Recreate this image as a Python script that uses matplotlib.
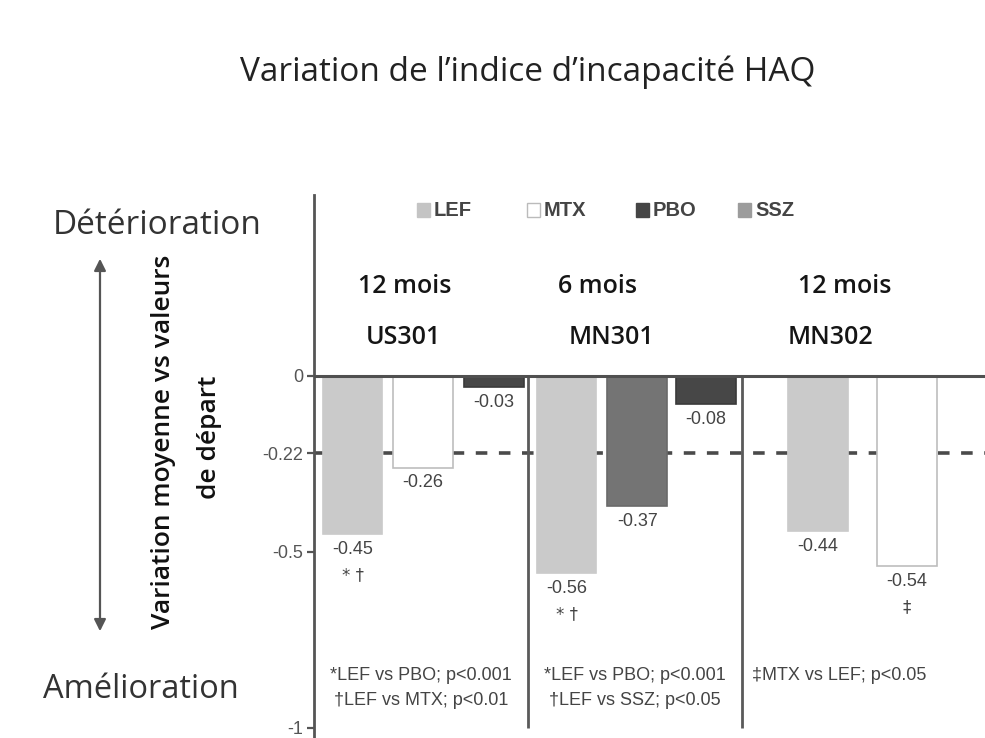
import matplotlib
matplotlib.use("Agg")
import matplotlib.pyplot as plt
from matplotlib import font_manager as fm
from matplotlib.patches import Rectangle, FancyArrowPatch

# ---------------- data ----------------
title = "Variation de l\u2019indice d\u2019incapacit\u00e9 HAQ"
studies = ["US301", "MN301", "MN302"]
durations = ["12 mois", "6 mois", "12 mois"]
treatments = ["LEF", "MTX", "PBO", "SSZ"]

us301_treat = ["LEF", "MTX", "PBO"]
us301_vals = [-0.45, -0.26, -0.03]
us301_marks = ["* \u2020", "", ""]

mn301_treat = ["LEF", "SSZ", "PBO"]
mn301_vals = [-0.56, -0.37, -0.08]
mn301_marks = ["* \u2020", "", ""]

mn302_treat = ["LEF", "MTX"]
mn302_vals = [-0.44, -0.54]
mn302_marks = ["", "\u2021"]

footnotes = [
    ["*LEF vs PBO; p<0.001", "\u2020LEF vs MTX; p<0.01"],
    ["*LEF vs PBO; p<0.001", "\u2020LEF vs SSZ; p<0.05"],
    ["\u2021MTX vs LEF; p<0.05"],
]
ref_value = -0.22
yticks = [0, -0.22, -0.5, -1]
yticklabels = ["0", "-0.22", "-0.5", "-1"]
top_label = "D\u00e9t\u00e9rioration"
bottom_label = "Am\u00e9lioration"
ylabel_lines = ["Variation moyenne vs valeurs", "de d\u00e9part"]

# ---------------- style ----------------
names = {f.name for f in fm.fontManager.ttflist}

def pick(*cands):
    for n in cands:
        if n in names:
            return n
    return "DejaVu Sans"

SANS = pick("Open Sans", "Noto Sans", "DejaVu Sans")
NARROW = pick("Liberation Sans", "DejaVu Sans")

colors = {"LEF": "#cacaca", "MTX": "#ffffff", "PBO": "#474747", "SSZ": "#747474"}
edges = {"LEF": "#cacaca", "MTX": "#bdbdbd", "PBO": "#3a3a3a", "SSZ": "#6a6a6a"}
legend_colors = {"LEF": "#c4c4c4", "MTX": "#ffffff", "PBO": "#454545", "SSZ": "#9c9c9c"}
TXT = "#444444"

fig = plt.figure(figsize=(9.85, 7.38), dpi=100)
W, H = 985, 738
px = 214.0   # pixels per study group
x0 = 314
ypx = 352.0  # pixels per unit on y
ytop_px, ybot_px, yzero_px = 195, 738, 376
ax = fig.add_axes([x0 / W, (H - ybot_px) / H, (W - x0) / W, (ybot_px - ytop_px) / H])
ax.set_xlim(0, (W - x0) / px)
ax.set_ylim(-(ybot_px - yzero_px) / ypx, (yzero_px - ytop_px) / ypx)

slot_offsets = [[0.18, 0.51, 0.84], [0.18, 0.51, 0.83], [0.355, 0.77]]
bar_w = 0.28

group_data = [
    (us301_treat, us301_vals, us301_marks),
    (mn301_treat, mn301_vals, mn301_marks),
    (mn302_treat, mn302_vals, mn302_marks),
]

ax.axhline(ref_value, color="#4a4a4a", lw=2.6, ls=(0, (3.2, 3.2)), zorder=1)

for gi, (tr, vals, marks) in enumerate(group_data):
    xs = [gi + o for o in slot_offsets[gi]]
    ax.bar(xs, vals, width=bar_w, color=[colors[t] for t in tr],
           edgecolor=[edges[t] for t in tr], linewidth=1.2, zorder=2)
    for x, v, m in zip(xs, vals, marks):
        ax.annotate(f"{v:.2f}", (x, v), xytext=(0, -5), textcoords="offset points",
                    ha="center", va="top", fontsize=13, color=TXT,
                    fontfamily=NARROW, zorder=3)
        if m:
            ax.annotate(m, (x, v), xytext=(0, -23), textcoords="offset points",
                        ha="center", va="top", fontsize=12, color=TXT,
                        fontfamily="DejaVu Sans", zorder=3)

dur_px = [405, 598, 845]
study_px = [403, 611, 830]
for gi in range(3):
    fig.text(dur_px[gi] / W, 1 - 287 / H, durations[gi], ha="center", va="center",
             fontsize=18, fontfamily=SANS, fontweight="semibold", color="#151515")
    fig.text(study_px[gi] / W, 1 - 338 / H, studies[gi], ha="center", va="center",
             fontsize=18, fontfamily=SANS, fontweight="semibold", color="#151515")

for b in [1, 2]:
    ax.plot([b, b], [0, -1.0], color="#5a5a5a", lw=2.0, zorder=4, solid_capstyle="butt")

ax.axhline(0, color="#505050", lw=2.2, zorder=4)

for gi, notes in enumerate(footnotes):
    for li, note in enumerate(notes):
        y = -0.85 - li * 0.071
        if gi < 2:
            ax.text(gi + 0.5, y, note, ha="center", va="center", fontsize=13,
                    fontfamily=NARROW, color=TXT)
        else:
            ax.text(gi + 0.045, y, note, ha="left", va="center", fontsize=13,
                    fontfamily=NARROW, color=TXT)

for s in ["top", "right", "bottom"]:
    ax.spines[s].set_visible(False)
ax.spines["left"].set_color("#555555")
ax.spines["left"].set_linewidth(2.0)
ax.set_xticks([])
ax.set_yticks(yticks)
ax.set_yticklabels(yticklabels, fontfamily=NARROW, fontsize=13, color="#555555")
ax.tick_params(axis="y", length=5, width=1.6, color="#555555", pad=3)

leg_sq_px = [417, 527, 636, 738]
for t, lx in zip(treatments, leg_sq_px):
    fig.patches.append(Rectangle((lx / W, 1 - 217 / H), 13 / W, 14 / H,
                                 transform=fig.transFigure,
                                 facecolor=legend_colors[t],
                                 edgecolor="#bbbbbb" if t == "MTX" else legend_colors[t],
                                 lw=1.0))
    fig.text((lx + 17) / W, 1 - 210 / H, t, ha="left", va="center", fontsize=14.5,
             fontfamily=NARROW, color=TXT, fontweight="bold")

fig.text(528 / W, 1 - 72 / H, title, ha="center", va="center", fontsize=24,
         fontfamily=SANS, color="#222222")

fig.text(157 / W, 1 - 225 / H, top_label, ha="center", va="center", fontsize=24,
         fontfamily=SANS, color="#333333")
fig.text(141 / W, 1 - 690 / H, bottom_label, ha="center", va="center", fontsize=23.5,
         fontfamily=SANS, color="#333333")
fig.text(164 / W, 1 - 442 / H, ylabel_lines[0], ha="center", va="center", rotation=90,
         fontsize=19, fontfamily=SANS, fontweight="semibold", color="#111111")
fig.text(209 / W, 1 - 437 / H, ylabel_lines[1], ha="center", va="center", rotation=90,
         fontsize=19, fontfamily=SANS, fontweight="semibold", color="#111111")
fig.add_artist(FancyArrowPatch(
    (100 / W, 1 - 634 / H), (100 / W, 1 - 256 / H), transform=fig.transFigure,
    arrowstyle="<|-|>,head_length=7,head_width=3.5", color="#555555", lw=1.6,
    mutation_scale=1))

fig.savefig("out.png", dpi=100)
